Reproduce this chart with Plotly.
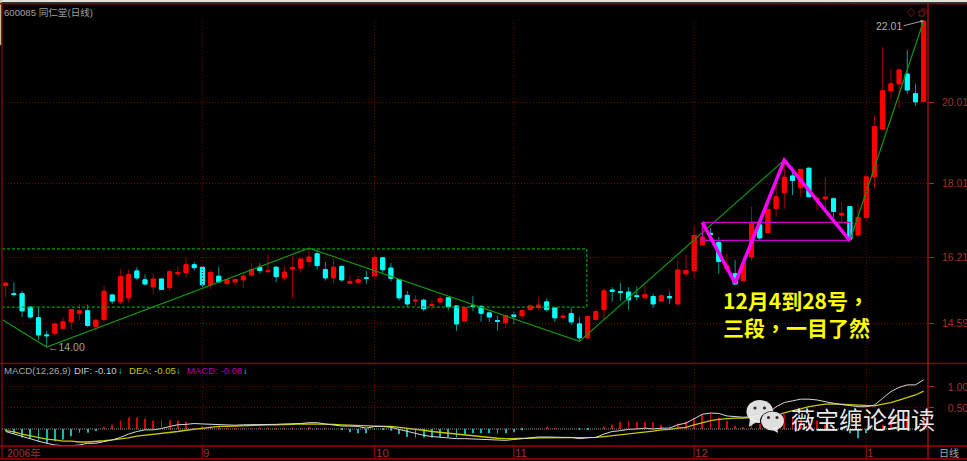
import plotly.graph_objects as go

W, H = 967, 461

# --- price data ---
opens = [15.51,15.31,15.31,14.98,14.72,14.30,14.34,14.46,14.62,14.83,14.89,14.51,14.68,15.28,15.11,15.21,15.87,15.65,15.48,15.67,15.46,15.80,15.83,16.02,15.96,15.53,15.74,15.56,15.60,15.65,15.77,15.96,15.85,15.96,15.70,15.92,15.94,16.10,16.29,15.90,15.70,15.98,15.57,15.59,15.70,15.75,16.19,15.94,15.66,15.27,15.13,15.15,15.02,15.11,15.21,15.01,14.64,15.01,15.00,14.84,14.65,14.60,14.79,14.77,14.92,14.97,15.11,14.96,14.73,14.82,14.57,14.23,14.68,14.92,15.40,15.36,15.35,15.26,15.21,15.24,15.13,15.24,15.06,15.80,15.88,16.51,16.79,16.57,15.92,15.80,15.63,16.21,17.00,16.81,17.40,17.79,18.20,17.92,18.39,17.61,17.64,17.64,17.24,17.45,16.75,17.18,18.18,19.35,20.29,20.46,20.70,20.22,20.03]
highs = [15.61,15.59,15.38,15.00,14.98,14.40,14.59,14.74,14.93,15.06,15.04,14.69,15.51,15.30,15.92,15.91,15.96,15.78,15.80,15.69,15.91,15.98,16.20,16.09,15.98,15.90,15.98,15.67,15.68,15.83,16.06,16.06,16.27,15.98,15.98,16.23,16.18,16.41,16.39,16.09,16.18,16.01,15.76,15.75,15.87,16.24,16.20,16.06,15.67,15.38,15.27,15.19,15.15,15.28,15.23,15.01,15.00,15.26,15.03,14.85,14.77,14.79,14.87,14.92,15.05,15.21,15.19,14.98,14.84,14.97,14.75,14.77,14.93,15.45,15.47,15.57,15.47,15.49,15.53,15.31,15.31,15.36,16.12,16.26,16.97,17.04,16.92,16.70,16.30,16.14,16.22,17.45,17.02,17.61,18.02,18.59,18.43,18.38,18.41,17.73,18.18,17.68,17.57,17.46,17.53,18.23,19.70,21.36,20.83,20.84,21.29,20.47,22.01]
lows = [15.22,15.24,14.74,14.70,14.18,14.00,14.28,14.44,14.43,14.66,14.49,14.40,14.62,15.06,15.06,15.10,15.65,15.51,15.31,15.41,15.38,15.73,15.69,15.88,15.45,15.42,15.57,15.51,15.51,15.45,15.73,15.80,15.82,15.59,15.63,15.20,15.82,15.98,15.90,15.63,15.57,15.61,15.56,15.57,15.55,15.73,15.82,15.61,15.14,14.97,15.00,14.88,14.93,15.06,14.90,14.40,14.62,14.89,14.62,14.62,14.40,14.46,14.56,14.69,14.91,14.93,14.87,14.62,14.68,14.54,14.16,14.21,14.67,14.69,15.11,15.14,14.91,15.14,15.21,14.96,15.12,15.05,15.03,15.72,15.69,16.51,16.67,15.80,15.83,15.53,15.63,16.12,16.63,16.80,17.20,17.39,17.73,17.69,17.68,17.35,17.38,17.19,17.02,16.61,16.73,17.10,17.91,19.35,20.09,19.86,20.21,19.92,20.03]
closes = [15.57,15.29,14.89,14.74,14.30,14.28,14.57,14.62,14.92,14.89,14.53,14.66,15.37,15.13,15.73,15.78,15.70,15.55,15.67,15.42,15.85,15.83,16.02,15.95,15.53,15.83,15.60,15.65,15.66,15.74,15.90,15.88,15.87,15.73,15.84,15.95,16.16,16.21,16.00,15.70,15.96,15.65,15.61,15.65,15.69,16.20,15.90,15.69,15.21,15.06,15.15,14.94,15.04,15.19,14.99,14.57,14.97,15.00,14.83,14.74,14.63,14.77,14.76,14.89,15.01,15.03,14.92,14.72,14.76,14.62,14.23,14.75,14.87,15.38,15.37,15.34,15.16,15.24,15.29,15.06,15.26,15.21,15.89,15.88,16.74,16.70,16.76,16.10,16.00,15.55,16.06,17.06,16.68,17.38,17.69,18.17,18.09,18.36,17.69,17.65,17.68,17.33,17.28,16.65,17.18,18.18,19.41,20.29,20.46,20.80,20.31,20.02,22.00]
days = list(range(len(closes)))

# --- MACD data ---
dif = [-.06,-.12,-.17,-.23,-.29,-.34,-.38,-.40,-.40,-.38,-.34,-.34,-.30,-.26,-.20,-.12,-.06,-.02,-.02,.01,.06,.10,.11,.13,.12,.11,.11,.10,.09,.10,.10,.10,.11,.11,.12,.12,.13,.15,.15,.12,.10,.07,.07,.06,.02,.06,.06,.04,-.01,-.06,-.10,-.15,-.18,-.20,-.21,-.23,-.23,-.24,-.25,-.26,-.27,-.27,-.25,-.23,-.21,-.19,-.19,-.20,-.20,-.20,-.23,-.21,-.20,-.12,-.06,-.04,-.01,0,.02,0,.02,.02,.10,.14,.24,.35,.38,.37,.31,.29,.28,.29,.33,.37,.53,.63,.67,.71,.71,.69,.65,.61,.58,.56,.53,.53,.57,.73,.89,.99,1.05,1.05,1.17]
dea = [-.04,-.07,-.12,-.16,-.20,-.24,-.26,-.29,-.29,-.31,-.31,-.30,-.28,-.26,-.24,-.21,-.17,-.15,-.13,-.11,-.09,-.06,-.03,-.01,.02,.03,.06,.06,.07,.08,.08,.09,.10,.10,.10,.11,.12,.12,.12,.12,.11,.10,.09,.08,.07,.06,.06,.06,.04,.02,-.01,-.03,-.06,-.08,-.10,-.13,-.15,-.17,-.19,-.21,-.22,-.23,-.23,-.23,-.22,-.21,-.21,-.21,-.20,-.20,-.21,-.21,-.20,-.18,-.16,-.13,-.12,-.09,-.07,-.05,-.02,-.01,.02,.04,.10,.15,.20,.23,.25,.26,.26,.28,.28,.29,.33,.39,.44,.48,.53,.56,.59,.60,.59,.58,.56,.55,.55,.59,.63,.69,.75,.81,.90]
macd = [-.05,-.11,-.20,-.23,-.30,-.34,-.29,-.25,-.17,-.09,-.09,-.05,.05,.10,.20,.28,.28,.25,.20,.21,.21,.20,.17,.02,.06,.07,.04,.02,.01,.01,.01,.01,.01,.01,.01,.03,.02,.04,.02,.01,0,-.02,-.08,-.10,-.10,-.02,-.02,-.04,-.12,-.19,-.20,-.20,-.20,-.19,-.19,-.20,-.13,-.10,-.10,-.10,-.10,-.10,-.08,-.03,0,.01,.03,.01,0,0,-.02,-.01,0,.06,.10,.17,.18,.17,.17,.16,.10,.08,.13,.18,.25,.35,.37,.27,.19,.08,.04,.12,.12,.20,.30,.35,.30,.25,.20,.20,.10,.02,-.03,-.10,-.22,-.10,.03,.10,.25,.30,.30,.25,.30]

# --- drawn lines (day, price) ---
zig_days = [-0.4, 5, 37, 70, 95, 103, 112]
zig_prices = [14.67, 14.00, 16.43, 14.14, 18.59, 16.61, 22.01]
box_days = [-0.45, 70.9, 70.9, -0.45]
box_prices = [16.41, 16.41, 14.98, 14.98]
pink_days = [85, 89, 95, 103]
pink_prices = [17.06, 15.57, 18.59, 16.61]
rect_days = [85, 103, 103, 85, 85]
rect_prices = [17.06, 17.06, 16.62, 16.62, 17.06]

month_days = [24, 45, 62, 84, 105]
month_labels = ["9", "10", "11", "12", "1"]
price_ticks = [20.01, 18.01, 16.21, 14.59]
macd_ticks = [1.00, 0.50]

RED, CYAN = "#ff0000", "#00ffff"
DKRED = "#8a0000"
TXTRED = "#a03030"
SANS = "Liberation Sans, Noto Sans CJK SC"
px = lambda x: x / W
py = lambda y: 1 - y / H

fig = go.Figure()
# wicks
fig.add_trace(go.Candlestick(x=days, open=opens, high=highs, low=lows, close=closes,
    increasing=dict(line=dict(color="#a00000", width=1), fillcolor=RED),
    decreasing=dict(line=dict(color="#0c9494", width=1), fillcolor=CYAN),
    whiskerwidth=0, xaxis="x", yaxis="y"))
# bodies
fig.add_trace(go.Candlestick(x=days, open=opens, close=closes,
    high=[max(a, b) for a, b in zip(opens, closes)],
    low=[min(a, b) for a, b in zip(opens, closes)],
    increasing=dict(line=dict(color=RED, width=1), fillcolor=RED),
    decreasing=dict(line=dict(color=CYAN, width=1), fillcolor=CYAN),
    whiskerwidth=0, xaxis="x", yaxis="y"))

fig.add_trace(go.Scatter(x=box_days, y=box_prices, mode="lines", xaxis="x", yaxis="y",
    line=dict(color="#00a000", width=1.2, dash="3px,2px")))
fig.add_trace(go.Scatter(x=zig_days, y=zig_prices, mode="lines", xaxis="x", yaxis="y",
    line=dict(color="#0f960f", width=1.2)))
fig.add_trace(go.Scatter(x=rect_days, y=rect_prices, mode="lines", xaxis="x", yaxis="y",
    line=dict(color="#c800c8", width=1.2)))
fig.add_trace(go.Scatter(x=pink_days, y=pink_prices, mode="lines", xaxis="x", yaxis="y",
    line=dict(color="#ff00ff", width=3.5)))

fig.add_trace(go.Bar(x=days, y=macd, width=0.1, xaxis="x2", yaxis="y2",
    marker=dict(color=["#d80000" if v >= 0 else "#12b4b4" for v in macd], line=dict(width=0))))
fig.add_trace(go.Scatter(x=days, y=dea, mode="lines", xaxis="x2", yaxis="y2",
    line=dict(color="#c8c800", width=1.3)))
fig.add_trace(go.Scatter(x=days, y=dif, mode="lines", xaxis="x2", yaxis="y2",
    line=dict(color="#d8d8d8", width=1)))

GRID = dict(showgrid=True, gridcolor="#7a0000", griddash="1px,2px", gridwidth=1)
NB = "\u00a0"
price_axis = dict(domain=[py(363), py(4)], range=[13.61, 22.42], side="right", anchor="x",
    tickvals=price_ticks, ticktext=[NB * 2 + f"{v:.2f}" for v in price_ticks], zeroline=False,
    ticks="outside", ticklen=5, tickcolor=TXTRED, tickfont=dict(color=TXTRED, size=10.5, family=SANS), **GRID)
macd_axis = dict(domain=[py(446), py(363)], range=[-0.405, 1.571], side="right", anchor="x2",
    tickvals=macd_ticks, ticktext=[NB * 4 + f"{v:.2f}" for v in macd_ticks], zeroline=False,
    ticks="outside", ticklen=5, tickcolor=TXTRED, tickfont=dict(color=TXTRED, size=10.5, family=SANS), **GRID)
xdom = [px(2), px(928)]
xr = [-0.45, 112.53]
x_axis = dict(domain=xdom, range=xr, anchor="y", rangeslider=dict(visible=False), showticklabels=False,
    showgrid=False, zeroline=False, ticks="")
x2_axis = dict(domain=xdom, range=xr, anchor="y2", tickvals=month_days, showticklabels=False,
    zeroline=False, ticks="", **GRID)

shapes = []
def line(x0, y0, x1, y1, color=DKRED, width=1.4):
    shapes.append(dict(type="line", xref="paper", yref="paper", x0=px(x0), y0=py(y0), x1=px(x1), y1=py(y1),
                       line=dict(color=color, width=width)))
def blob(x0, y0, x1, y1, color, xtra=None):
    shapes.append(dict(type="circle", xref="paper", yref="paper", x0=px(x0), y0=py(y0), x1=px(x1), y1=py(y1),
                       fillcolor=color, line=dict(width=0)))

# panel frame
shapes.append(dict(type="rect", xref="paper", yref="paper", x0=0, x1=1, y0=py(2.2), y1=1,
                   fillcolor="#e0e0e0", line=dict(width=0)))
shapes.append(dict(type="rect", xref="paper", yref="paper", x0=0, x1=px(1.6), y0=py(45), y1=1,
                   fillcolor="#c8b898", line=dict(width=0)))
line(0, 3.8, W, 3.8)
for tx in [768, 797, 826, 855, 883, 912, 941]:
    line(tx, 2.5, tx, 5, DKRED, 1)
line(0, 363.5, W, 363.5)
line(0, 446, W, 446, "#a00000")
line(0, 459, W, 459, "#a00000")
line(2, 4, 2, 459)
line(928, 4, 928, 459, "#a01010", 1.4)
for m in month_days:
    shapes.append(dict(type="line", xref="x", yref="paper", x0=m, x1=m, y0=py(446), y1=py(459),
                       line=dict(color=DKRED, width=1.4)))
    shapes.append(dict(type="line", xref="x", yref="y", x0=m, x1=m, y0=13.61, y1=22.01,
                       line=dict(color="#7a0000", width=1, dash="1px,2px")))
shapes.append(dict(type="line", xref="paper", yref="y2", x0=xdom[0], x1=xdom[1], y0=0, y1=0,
                   line=dict(color="#909090", width=1, dash="1px,1px")))

# icons top right
shapes.append(dict(type="path", xref="paper", yref="paper",
    path=f"M {px(911)} {py(8.5)} L {px(915)} {py(12.5)} L {px(911)} {py(16.5)} L {px(907)} {py(12.5)} Z",
    line=dict(color="#7a1a1a", width=1)))
shapes.append(dict(type="rect", xref="paper", yref="paper", x0=px(922), x1=px(926), y0=py(14), y1=py(9),
    line=dict(color="#7a1a1a", width=1)))
shapes.append(dict(type="rect", xref="paper", yref="paper", x0=px(919), x1=px(924), y0=py(16), y1=py(11),
    line=dict(color="#7a1a1a", width=1), fillcolor="#000000"))

# watermark logo
BUB = "rgba(235,235,235,0.95)"
blob(746.5, 400, 773, 423, BUB)
shapes.append(dict(type="path", xref="paper", yref="paper",
    path=f"M {px(750)} {py(417)} L {px(749)} {py(427)} L {px(758)} {py(421)} Z", fillcolor=BUB, line=dict(width=0)))
blob(760, 411, 784.5, 431, "#000000")
blob(761, 411.5, 784, 430.5, BUB)
shapes.append(dict(type="path", xref="paper", yref="paper",
    path=f"M {px(777)} {py(426)} L {px(778)} {py(433)} L {px(771)} {py(429)} Z", fillcolor=BUB, line=dict(width=0)))
for ex, ey in [(755, 408), (764.5, 408), (768.5, 417.5), (777, 417.5)]:
    blob(ex - 1.6, ey - 1.6, ex + 1.6, ey + 1.6, "#3a2a2a")

ann = []
def text(x, y, s, color, size=10.5, anchor="left", family=SANS, **kw):
    ann.append(dict(xref="paper", yref="paper", x=px(x), y=py(y), text=s, showarrow=False,
                    xanchor=anchor, yanchor="middle", font=dict(color=color, size=size, family=family),
                    borderpad=0, **kw))

text(3, 12.5, "600085 同仁堂(日线)", "#a0a0a0", 9.6)
text(2.5, 370, "MACD(12,26,9)", "#a8a8a8", 9.6)
text(72.5, 370, "DIF: -0.10", "#c8c8c8", 9.6)
text(116.5, 370, "↓", "#00e0e0", 9.5)
text(127.5, 370, "DEA: -0.05", "#c8c800", 9.6)
text(175, 370, "↓", "#00e0e0", 9.5)
text(185.5, 370, "MACD: -0.08", "#b000b0", 9.6)
text(242, 370, "↓", "#00e0e0", 9.5)
text(5.5, 453, "2006年", TXTRED, 10.5)
for m, lab in zip(month_days, month_labels):
    ann.append(dict(xref="x", yref="paper", x=m, y=py(453), text=lab, showarrow=False, xanchor="left",
                    yanchor="middle", xshift=-1, font=dict(color=TXTRED, size=11.5, family=SANS)))
text(938, 453, "日线", "#a8a8a8", 10)

ann.append(dict(xref="x", yref="y", x=zig_days[1], y=zig_prices[1], text="←14.00", showarrow=False,
                xanchor="left", yanchor="middle", font=dict(color="#a0a0a0", size=10.5, family=SANS), xshift=-1))
ann.append(dict(xref="x", yref="y", x=zig_days[-1], y=zig_prices[-1], text="22.01", showarrow=True,
                arrowhead=2, arrowsize=0.6, arrowwidth=1, arrowcolor="#a0a0a0", axref="pixel", ayref="pixel",
                ax=-20, ay=5, font=dict(color="#b0b0b0", size=10.5, family=SANS), xanchor="right", standoff=0))

CJK = "Noto Sans CJK TC, Noto Sans CJK SC"
text(722, 313, "<b>12月4到28号，<br>三段，一目了然</b>", "#ffff00", 21, family=CJK, align="left")
text(790, 418, "薇宝缠论细读", "rgba(255,255,255,0.93)", 24, family="Noto Sans CJK SC")

fig.update_layout(width=W, height=H, margin=dict(l=0, r=0, t=0, b=0), showlegend=False,
    paper_bgcolor="#000000", plot_bgcolor="#000000", xaxis=x_axis, xaxis2=x2_axis,
    yaxis=price_axis, yaxis2=macd_axis, shapes=shapes, annotations=ann, barmode="overlay",
    hovermode=False)

fig.write_html("out.html", config=dict(displayModeBar=False),
               post_script="document.body.style.margin='0';document.body.style.background='#000';")
